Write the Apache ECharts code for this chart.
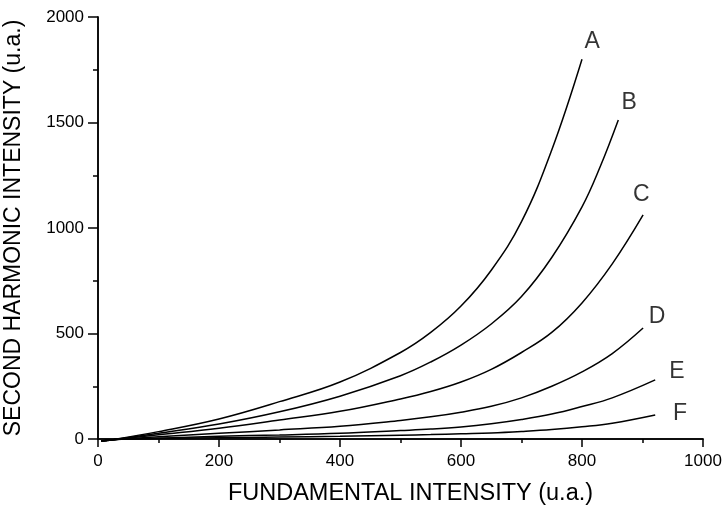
<!DOCTYPE html>
<html>
<head>
<meta charset="utf-8">
<script src="https://cdn.jsdelivr.net/npm/echarts@6/dist/echarts.min.js"></script>
<style>html,body{margin:0;padding:0;background:#fff}#c{width:722px;height:507px}</style>
</head>
<body>
<div id="c"></div>
<script>
const curveNames = ['A','B','C','D','E','F'];
const curveA = [[5,-10],[25,-3],[100,35],[200,95],[300,177],[400,270],[500,410],[550,505],[600,630],[650,800],[700,1030],[750,1370],[800,1800]];
const curveB = [[5,-10],[25,-3],[100,27],[200,71],[300,129],[400,203],[500,300],[550,365],[600,445],[650,545],[700,675],[750,860],[800,1100],[830,1290],[860,1512]];
const curveC = [[5,-10],[25,-3],[100,20],[200,51],[300,90],[400,131],[500,190],[550,225],[600,270],[650,330],[700,410],[750,505],[800,645],[850,830],[901,1062]];
const curveD = [[5,-10],[25,-3],[100,11],[200,27],[300,43],[400,60],[500,88],[550,105],[600,127],[650,155],[700,195],[750,250],[800,318],[850,405],[901,526]];
const curveE = [[5,-10],[25,-3],[100,4],[200,13],[300,19],[400,27],[500,40],[550,47],[600,57],[650,72],[700,92],[750,118],[800,154],[850,195],[921,280]];
const curveF = [[5,-10],[25,-3],[100,3],[200,6],[300,9],[400,13],[500,18],[550,21],[600,25],[650,29],[700,36],[750,45],[800,58],[850,75],[921,114]];
const curves = [curveA, curveB, curveC, curveD, curveE, curveF];
const labelPos = [[817,1882],[878,1592],[898,1156],[924,578],[957,318],[962,118]];
const xTicks = [0,200,400,600,800,1000];
const yTicks = [0,500,1000,1500,2000];

const font = '"Liberation Sans", Arial, Helvetica, sans-serif';
const chart = echarts.init(document.getElementById('c'), null, {renderer:'canvas'});
const axisLine = {show:true, lineStyle:{color:'#000', width:1.5}};
const series = curves.map((d,i)=>({
  name: curveNames[i], type:'line', data:d, smooth:0.4, symbol:'none', clip:false,
  lineStyle:{color:'#000', width:1.5}, xAxisIndex:0, yAxisIndex:0, z:3
}));
series.push({
  type:'scatter', data: labelPos.map((p,i)=>({value:p, name:curveNames[i]})),
  symbolSize:0, silent:true,
  label:{show:true, position:'inside', formatter:p=>p.name, color:'#000', fontSize:23, fontFamily:font}
});
chart.setOption({
  animation:false,
  backgroundColor:'#fff',
  grid:{left:98, right:19, top:17, bottom:68, containLabel:false, outerBoundsMode:'none'},
  xAxis:[{
    type:'value', min:0, max:1000, interval:200,
    name:'FUNDAMENTAL INTENSITY (u.a.)', nameLocation:'middle', nameGap:43,
    nameTextStyle:{fontSize:23.5, color:'#000', fontFamily:font, padding:[0,0,0,20]},
    axisLine:axisLine,
    axisTick:{show:true, length:8, lineStyle:{color:'#000', width:1.5}},
    minorTick:{show:true, splitNumber:2, length:4, lineStyle:{color:'#000', width:1.5}},
    axisLabel:{fontSize:17, color:'#000', fontFamily:font, margin:14, formatter:v=>xTicks.includes(v)?String(v):''},
    splitLine:{show:false}
  },{
    type:'value', min:0, max:1000, interval:200, position:'top',
    axisLine:axisLine,
    axisTick:{show:true, inside:true, length:3, lineStyle:{color:'#000', width:1.5}},
    minorTick:{show:true, splitNumber:2, length:3, lineStyle:{color:'#000', width:1.5}},
    axisLabel:{show:false}, splitLine:{show:false}
  }],
  yAxis:[{
    type:'value', min:0, max:2000, interval:500,
    name:'SECOND HARMONIC INTENSITY (u.a.)', nameLocation:'middle', nameGap:73,
    nameTextStyle:{fontSize:23, color:'#000', fontFamily:font},
    axisLine:axisLine,
    axisTick:{show:true, length:10, lineStyle:{color:'#000', width:1.5}},
    minorTick:{show:true, splitNumber:2, length:5, lineStyle:{color:'#000', width:1.5}},
    axisLabel:{fontSize:17, color:'#000', fontFamily:font, margin:14, formatter:v=>yTicks.includes(v)?String(v):''},
    splitLine:{show:false}
  },{
    type:'value', min:0, max:2000, interval:500, position:'right',
    axisLine:axisLine,
    axisTick:{show:true, inside:true, length:3, lineStyle:{color:'#000', width:1.5}},
    minorTick:{show:true, splitNumber:2, length:3, lineStyle:{color:'#000', width:1.5}},
    axisLabel:{show:false}, splitLine:{show:false}
  }],
  series:series
});
</script>
</body>
</html>
